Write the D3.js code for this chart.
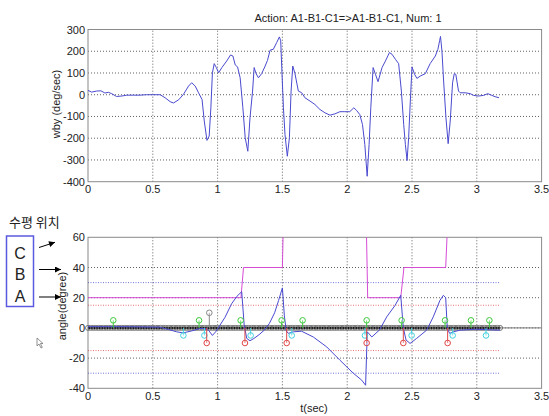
<!DOCTYPE html>
<html>
<head>
<meta charset="utf-8">
<script src="https://cdnjs.cloudflare.com/ajax/libs/d3/7.8.5/d3.min.js"></script>
<style>
  body { margin: 0; background: #fff; }
  text { font-family: Arial, "Liberation Sans", sans-serif; fill: #222; }
</style>
</head>
<body>
<svg id="chart" width="549" height="416"></svg>
<script>
// top panel: angular rate wby (deg/sec)
var wbyT = [0, 0.028, 0.067, 0.1, 0.13, 0.157, 0.183, 0.22, 0.26, 0.3,
  0.35, 0.4, 0.45, 0.5, 0.557, 0.595, 0.634, 0.66, 0.7, 0.737,
  0.776, 0.8, 0.827, 0.853, 0.88, 0.897, 0.918, 0.935, 0.948, 0.96,
  0.974, 0.99, 1.008, 1.033, 1.07, 1.1, 1.118, 1.136, 1.154, 1.174,
  1.195, 1.213, 1.233, 1.25, 1.27, 1.282, 1.297, 1.315, 1.34, 1.367,
  1.385, 1.405, 1.43, 1.456, 1.477, 1.487, 1.495, 1.508, 1.52, 1.538,
  1.554, 1.567, 1.58, 1.597, 1.623, 1.649, 1.674, 1.713, 1.751, 1.79,
  1.828, 1.867, 1.905, 1.944, 1.982, 2.02, 2.051, 2.072, 2.097, 2.118,
  2.136, 2.154, 2.169, 2.182, 2.2, 2.218, 2.238, 2.269, 2.295, 2.326,
  2.346, 2.372, 2.397, 2.418, 2.436, 2.449, 2.462, 2.474, 2.487, 2.5,
  2.52, 2.538, 2.564, 2.603, 2.64, 2.68, 2.7, 2.713, 2.72, 2.731,
  2.744, 2.762, 2.779, 2.795, 2.813, 2.826, 2.838, 2.859, 2.872, 2.91,
  2.949, 2.975, 3.013, 3.052, 3.085, 3.116, 3.141, 3.172];
var wbyV = [20, 12, 17, 18, 8, 11, 5, -8, -6, -2,
  -2, -2, 0, 0, 0, -14, -32, -38, -23, 2,
  40, 55, 40, 9, -22, -121, -210, -190, -60, 101,
  143, 125, 101, 125, 155, 183, 178, 137, 128, 78,
  -60, -198, -260, -106, 17, 125, 97, 78, 97, 132,
  158, 205, 209, 240, 266, 248, 125, -60, -183, -283,
  -198, 17, 132, 97, 17, 9, -14, -29, -45, -68,
  -83, -94, -88, -78, -78, -78, -60, -72, -91, -137,
  -229, -375, -229, -60, 125, 94, 60, 125, 155, 194,
  186, 163, 143, 17, -137, -229, -303, -198, -29, 128,
  94, 75, 86, 97, 143, 178, 209, 248, 268, 201,
  63, -106, -225, -121, 55, 97, 94, 17, 9, 9,
  5, -3, -6, -3, 5, -3, -9, -14];

// bottom panel: angle (degree)
var angT = [0, 0.3, 0.55, 0.62, 0.684, 0.735, 0.8, 0.864, 0.9, 0.93,
  0.96, 0.985, 1.01, 1.057, 1.108, 1.15, 1.186, 1.205, 1.225, 1.25,
  1.28, 1.32, 1.36, 1.4, 1.44, 1.47, 1.5, 1.515, 1.53, 1.546,
  1.584, 1.648, 1.738, 1.842, 1.944, 2.047, 2.112, 2.142, 2.155, 2.19,
  2.25, 2.305, 2.37, 2.413, 2.433, 2.454, 2.485, 2.535, 2.613, 2.664,
  2.716, 2.742, 2.76, 2.772, 2.79, 2.82, 2.87, 2.99, 3.18];
var angV = [0.8, 0.8, 0.5, -1, -2.6, -3.3, -2, -0.4, -0.4, -1.5,
  -5, -2.6, 0.7, 7, 16, 21, 24, 2, -7, -8.5,
  -7, -4.5, -1.5, 3, 10, 18, 26.5, 8, -2, -3.6,
  -2.6, -2.2, -6, -12.6, -21.4, -30, -34.6, -38, -2.6, -6,
  -1.3, 7.3, 15, 21.6, 0, -8, -10.3, -7, -1.5, 7.3,
  18.3, 21.6, 20, 0, -3.6, -2.6, -1.5, -0.9, -1.5];

// position level (steps, above 60 is clipped)
var levelT = [0, 1.18, 1.2, 1.5, 1.51, 2.145, 2.158, 2.413, 2.438, 2.76, 2.78, 3.18];
var levelV = [20, 20, 40, 40, 80, 80, 20, 20, 40, 40, 80, 80];

// stem events
var greenT = [0.195, 0.857, 1.178, 1.494, 1.656, 2.15, 2.42, 2.755, 2.955, 3.097];
var cyanT = [0.736, 0.898, 1.255, 1.572, 2.137, 2.497, 2.814, 3.071];
var redT = [0.916, 1.211, 1.533, 2.15, 2.433, 2.775];
var grayT = [0.936];
var greenV = 5, cyanV = -5, redV = -10, grayV = 10;

// sample clock for the zero stems
var sampleT = d3.range(0, 160).map(function (i) { return i * 0.02; });

var xTicks = [0, 0.5, 1, 1.5, 2, 2.5, 3, 3.5];
var topYTicks = [-400, -300, -200, -100, 0, 100, 200, 300];
var botYTicks = [-40, -20, 0, 20, 40, 60];
var limitsRed = [15, -15], limitsBlue = [30, -30];

var svg = d3.select("#chart");
var left = 88, right = 541.6;

var x = d3.scaleLinear().domain([0, 3.5]).range([left, right]);
var yTop = d3.scaleLinear().domain([-400, 300]).range([181.7, 29.5]);
var yBot = d3.scaleLinear().domain([-40, 60]).range([388.3, 237.3]);

function panel(y, yTicks, tickLabelY) {
  var g = svg.append("g");
  var y0 = y.range()[0], y1 = y.range()[1];
  // grid
  g.append("g").selectAll("line").data(xTicks.slice(1, -1)).enter().append("line")
    .attr("x1", d => x(d)).attr("x2", d => x(d))
    .attr("y1", y0).attr("y2", y1)
    .attr("stroke", "#3a3a3a").attr("stroke-width", 0.8).attr("stroke-dasharray", "1,2");
  g.append("g").selectAll("line").data(yTicks.slice(1, -1)).enter().append("line")
    .attr("x1", left).attr("x2", right)
    .attr("y1", d => y(d)).attr("y2", d => y(d))
    .attr("stroke", "#3a3a3a").attr("stroke-width", 0.8).attr("stroke-dasharray", "1,2");
  // box
  g.append("rect").attr("x", left).attr("y", y1)
    .attr("width", right - left).attr("height", y0 - y1)
    .attr("fill", "none").attr("stroke", "#8a8a8a").attr("stroke-width", 1);
  // axes labels
  g.append("g").selectAll("text").data(xTicks).enter().append("text")
    .attr("x", d => x(d)).attr("y", tickLabelY)
    .attr("text-anchor", "middle").attr("font-size", 11)
    .text(d => d);
  g.append("g").selectAll("text").data(yTicks).enter().append("text")
    .attr("x", left - 3).attr("y", d => y(d) + 4)
    .attr("text-anchor", "end").attr("font-size", 11)
    .text(d => d);
  return g;
}

panel(yTop, topYTicks, 193);
panel(yBot, botYTicks, 400);

// title and labels
svg.append("text").attr("x", 348).attr("y", 22).attr("text-anchor", "middle")
  .attr("font-size", 11).text("Action: A1-B1-C1=>A1-B1-C1, Num: 1");
svg.append("text").attr("transform", "translate(60,104) rotate(-90)")
  .attr("text-anchor", "middle").attr("font-size", 11).text("wby (deg/sec)");
svg.append("text").attr("transform", "translate(66,306) rotate(-90)")
  .attr("text-anchor", "middle").attr("font-size", 11).text("angle(degree)");
svg.append("text").attr("x", 314).attr("y", 412).attr("text-anchor", "middle")
  .attr("font-size", 11).text("t(sec)");

// top curve
var lineTop = d3.line().x(d => x(d[0])).y(d => yTop(d[1]));
svg.append("path")
  .attr("d", lineTop(d3.zip(wbyT, wbyV)))
  .attr("fill", "none").attr("stroke", "#4a4ad0").attr("stroke-width", 1);

// bottom panel content, clipped to the plot box
svg.append("clipPath").attr("id", "clipBot").append("rect")
  .attr("x", left - 8).attr("y", yBot(60)).attr("width", right - left + 8).attr("height", yBot(-40) - yBot(60));
var bot = svg.append("g").attr("clip-path", "url(#clipBot)");

var tEnd = 3.18;
bot.selectAll(".lim-r").data(limitsRed).enter().append("line")
  .attr("x1", x(0)).attr("x2", x(tEnd)).attr("y1", d => yBot(d)).attr("y2", d => yBot(d))
  .attr("stroke", "#e05050").attr("stroke-width", 0.8).attr("stroke-dasharray", "1,1.5");
bot.selectAll(".lim-b").data(limitsBlue).enter().append("line")
  .attr("x1", x(0)).attr("x2", x(tEnd)).attr("y1", d => yBot(d)).attr("y2", d => yBot(d))
  .attr("stroke", "#5050d0").attr("stroke-width", 0.8).attr("stroke-dasharray", "1,1.5");

// zero line
bot.append("line").attr("x1", x(0)).attr("x2", x(3.5))
  .attr("y1", yBot(0)).attr("y2", yBot(0))
  .attr("stroke", "#777").attr("stroke-width", 1);

// level steps
var lineBot = d3.line().x(d => x(d[0])).y(d => yBot(d[1]));
bot.append("path").attr("d", lineBot(d3.zip(levelT, levelV)))
  .attr("fill", "none").attr("stroke", "#d54cd5").attr("stroke-width", 1);

// zero stems
bot.append("line").attr("x1", x(0)).attr("x2", x(tEnd))
  .attr("y1", yBot(0)).attr("y2", yBot(0))
  .attr("stroke", "#111").attr("stroke-width", 2);
bot.append("g").selectAll("circle").data(sampleT).enter().append("circle")
  .attr("cx", d => x(d)).attr("cy", yBot(0)).attr("r", 2.5)
  .attr("fill", "none").attr("stroke", "#6a6a6a").attr("stroke-width", 0.9);

// angle curve
bot.append("path").attr("d", lineBot(d3.zip(angT, angV)))
  .attr("fill", "none").attr("stroke", "#4a4ad0").attr("stroke-width", 1);

function stems(times, val, color) {
  var g = bot.append("g");
  g.selectAll("line").data(times).enter().append("line")
    .attr("x1", d => x(d)).attr("x2", d => x(d))
    .attr("y1", yBot(0)).attr("y2", yBot(val))
    .attr("stroke", color).attr("stroke-width", 1);
  g.selectAll("circle").data(times).enter().append("circle")
    .attr("cx", d => x(d)).attr("cy", yBot(val)).attr("r", 2.8)
    .attr("fill", "#fff").attr("fill-opacity", 0.3)
    .attr("stroke", color).attr("stroke-width", 1);
}
stems(greenT, greenV, "#3cc83c");
stems(cyanT, cyanV, "#40d0e0");
stems(redT, redV, "#e04848");
stems(grayT, grayV, "#888");

// side annotation
svg.append("text").attr("x", 9).attr("y", 227)
  .attr("font-family", "'Noto Sans CJK KR', sans-serif").attr("font-size", 13)
  .style("font-family", "'Noto Sans CJK KR', sans-serif")
  .text("수평 위치");
svg.append("rect").attr("x", 6.5).attr("y", 236).attr("width", 27).attr("height", 70.5)
  .attr("fill", "none").attr("stroke", "#5a5ae0").attr("stroke-width", 1.5);
var letters = ["C", "B", "A"];
var letterY = [259, 280, 301.5];
svg.append("g").selectAll("text").data(letters).enter().append("text")
  .attr("x", 20).attr("y", (d, i) => letterY[i]).attr("text-anchor", "middle")
  .attr("font-size", 16).attr("fill", "#333").text(d => d);

svg.append("defs").append("marker").attr("id", "ah")
  .attr("viewBox", "0 0 10 10").attr("refX", 10).attr("refY", 5)
  .attr("markerWidth", 7).attr("markerHeight", 6).attr("orient", "auto")
  .attr("markerUnits", "userSpaceOnUse")
  .append("path").attr("d", "M0,0 L10,5 L0,10 z").attr("fill", "#000");
var arrows = [[39, 247.5, 55, 242.3], [39, 269.5, 61, 269.5], [39, 297, 61, 297]];
svg.append("g").selectAll("line").data(arrows).enter().append("line")
  .attr("x1", d => d[0]).attr("y1", d => d[1]).attr("x2", d => d[2]).attr("y2", d => d[3])
  .attr("stroke", "#000").attr("stroke-width", 1).attr("marker-end", "url(#ah)");

// mouse pointer glyph
svg.append("path")
  .attr("d", "M37,338 L37,346 L39,344 L41,348 L42.3,347.4 L40.4,343.5 L43,343.5 Z")
  .attr("fill", "#fff").attr("stroke", "#777").attr("stroke-width", 0.8);
</script>
</body>
</html>
